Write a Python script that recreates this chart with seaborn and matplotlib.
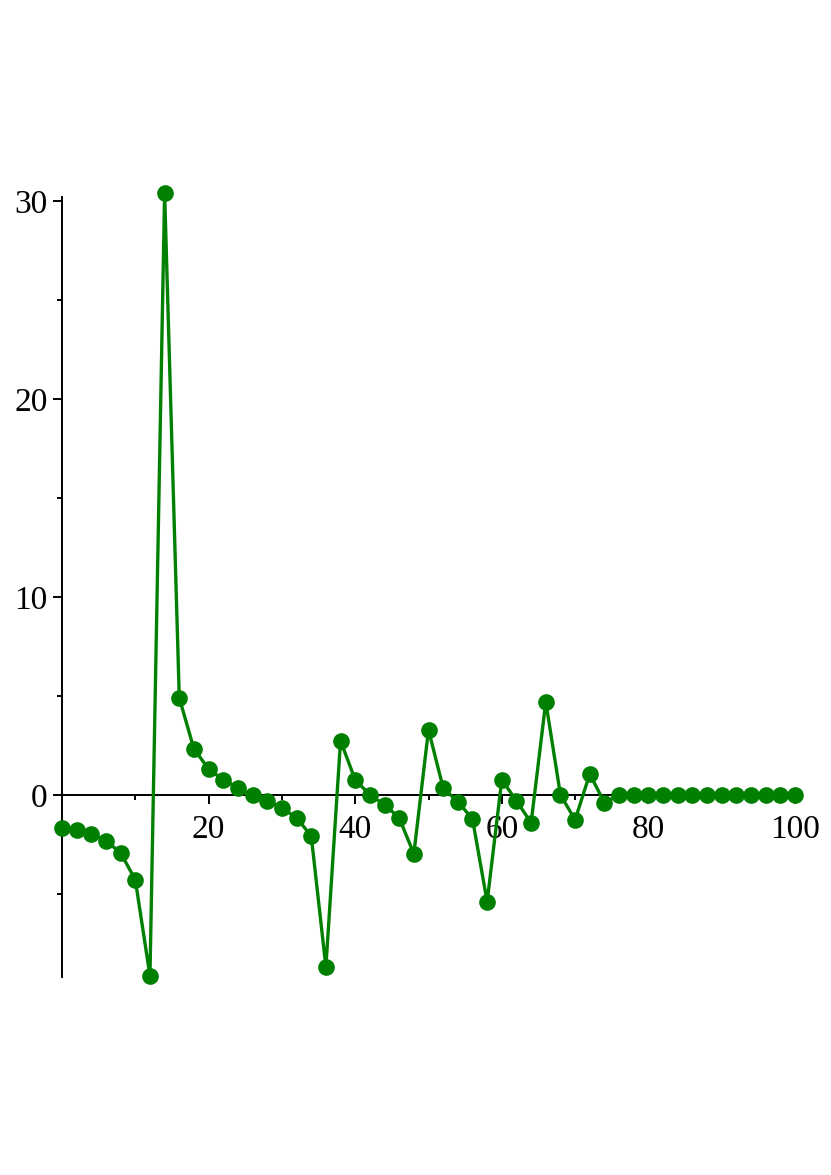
import matplotlib
matplotlib.use("Agg")
import matplotlib.pyplot as plt
from matplotlib.ticker import FixedLocator
import seaborn as sns
import pandas as pd

x_values = list(range(0, 101, 2))
y_values = [-1.67, -1.77, -1.97, -2.32, -2.93, -4.29, -9.14, 30.4, 4.90, 2.32,
            1.31, 0.76, 0.35, 0.0, -0.30, -0.66, -1.16, -2.07, -8.69, 2.73,
            0.76, 0.0, -0.50, -1.16, -2.98, 3.28, 0.35, -0.35, -1.21, -5.40,
            0.76, -0.30, -1.41, 4.70, 0.0, -1.26, 1.06, -0.40, 0.0, 0.0,
            0.0, 0.0, 0.0, 0.0, 0.0, 0.0, 0.0, 0.0, 0.0, 0.0, 0.0]
x_major = [20, 40, 60, 80, 100]
x_minor = [10, 30, 50, 70, 90]
y_major = [0, 10, 20, 30]
y_minor = [-5, 5, 15, 25]

df = pd.DataFrame({"x": x_values, "y": y_values})

sns.set_style("white")
plt.rcParams["font.family"] = ["Liberation Serif", "DejaVu Serif"]

fig = plt.figure(figsize=(8.31, 11.75), dpi=100)
ax = fig.add_axes([62/831, 198/1175, 733/831, 780/1175])

sns.lineplot(data=df, x="x", y="y", ax=ax, color="#008000", linewidth=2.4,
             marker="o", markersize=12, markeredgewidth=0, clip_on=False)

ax.set_xlim(0, 100)
ax.set_ylim(-9.2, 30.2)
ax.spines["top"].set_visible(False)
ax.spines["right"].set_visible(False)
ax.spines["left"].set_position(("data", 0))
ax.spines["bottom"].set_position(("data", 0))
for s in ["left", "bottom"]:
    ax.spines[s].set_color("black")
    ax.spines[s].set_linewidth(1.4)
    ax.spines[s].set_zorder(1)

ax.xaxis.set_major_locator(FixedLocator(x_major))
ax.xaxis.set_minor_locator(FixedLocator(x_minor))
ax.yaxis.set_major_locator(FixedLocator(y_major))
ax.yaxis.set_minor_locator(FixedLocator(y_minor))
ax.set_xticklabels([str(v) for v in x_major])
ax.set_yticklabels([str(v) for v in y_major])
ax.tick_params(axis="both", which="major", length=6.3, width=1.4, labelsize=24,
               colors="black", direction="out", bottom=True, left=True)
ax.tick_params(axis="both", which="minor", length=3.6, width=1.4,
               colors="black", direction="out", bottom=True, left=True)
ax.tick_params(axis="x", which="major", pad=8)
ax.tick_params(axis="y", which="major", pad=4)
ax.set_xlabel("")
ax.set_ylabel("")
ax.grid(False)

fig.savefig("out.png", dpi=100, facecolor="white")
